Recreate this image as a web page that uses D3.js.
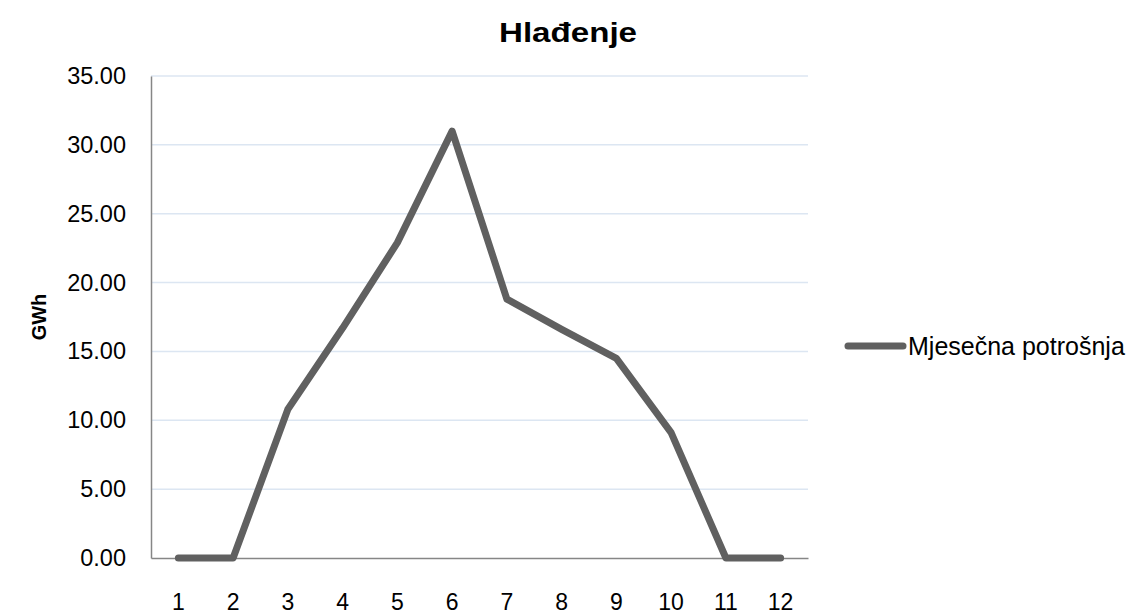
<!DOCTYPE html>
<html>
<head>
<meta charset="utf-8">
<script src="https://cdn.jsdelivr.net/npm/d3@7"></script>
<style>
  body { margin: 0; background: #fff; }
  text { font-family: "Liberation Sans", Arial, sans-serif; fill: #000; }
</style>
</head>
<body>
<svg id="chart" width="1127" height="615"></svg>
<script>
// Hlađenje - monthly cooling consumption
const months = ['1', '2', '3', '4', '5', '6', '7', '8', '9', '10', '11', '12'];
const consumption = [0, 0, 10.8, 16.7, 22.9, 31.0, 18.8, 16.6, 14.5, 9.1, 0, 0];
const yTicks = [0, 5, 10, 15, 20, 25, 30, 35];
const seriesName = 'Mjesečna potrošnja';

const svg = d3.select('#chart'),
  margin = { top: 76, right: 319, bottom: 57, left: 151 },
  W = +svg.attr('width') - margin.left - margin.right,
  H = +svg.attr('height') - margin.top - margin.bottom;

const g = svg.append('g')
  .attr('transform', `translate(${margin.left},${margin.top})`);

const x = d3.scaleBand().domain(months).range([0, W]);
const y = d3.scaleLinear().domain([0, 35]).range([H, 0]);

// gridlines
g.append('g')
  .selectAll('line')
  .data(yTicks.filter(d => d > 0))
  .join('line')
  .attr('x1', 0).attr('x2', W)
  .attr('y1', d => y(d)).attr('y2', d => y(d))
  .attr('stroke', '#dce6f2')
  .attr('stroke-width', 1.5);

// y axis
const yAxis = g.append('g')
  .call(d3.axisLeft(y).tickValues(yTicks).tickFormat(d3.format('.2f')).tickSize(0).tickPadding(25));
yAxis.select('.domain').attr('stroke', '#868686').attr('stroke-width', 1.5);
yAxis.selectAll('text').style('font-size', '23.5px');

// x axis
const xAxis = g.append('g')
  .attr('transform', `translate(0,${H})`)
  .call(d3.axisBottom(x).tickSize(0).tickPadding(36));
xAxis.select('.domain').attr('stroke', '#868686').attr('stroke-width', 1.5);
xAxis.selectAll('text').style('font-size', '23px');

// line
const line = d3.line()
  .x((d, i) => x(months[i]) + x.bandwidth() / 2)
  .y(d => y(d));

g.append('path')
  .datum(consumption)
  .attr('d', line)
  .attr('fill', 'none')
  .attr('stroke', '#606060')
  .attr('stroke-width', 7)
  .attr('stroke-linejoin', 'round')
  .attr('stroke-linecap', 'round');

// legend
const lg = svg.append('g').attr('transform', 'translate(848,346)');
lg.append('line')
  .attr('x1', 0).attr('x2', 55)
  .attr('stroke', '#606060')
  .attr('stroke-width', 7)
  .attr('stroke-linecap', 'round');
lg.append('text')
  .attr('x', 60).attr('y', 9)
  .style('font-size', '25px')
  .text(seriesName);

// title
svg.append('text')
  .attr('x', 568)
  .attr('y', 42)
  .attr('text-anchor', 'middle')
  .attr('textLength', 138)
  .attr('lengthAdjust', 'spacingAndGlyphs')
  .style('font-size', '27px')
  .style('font-weight', 'bold')
  .text('Hlađenje');

// y label
svg.append('text')
  .attr('transform', 'translate(46,317) rotate(-90)')
  .attr('text-anchor', 'middle')
  .style('font-size', '20px')
  .style('font-weight', 'bold')
  .text('GWh');
</script>
</body>
</html>
